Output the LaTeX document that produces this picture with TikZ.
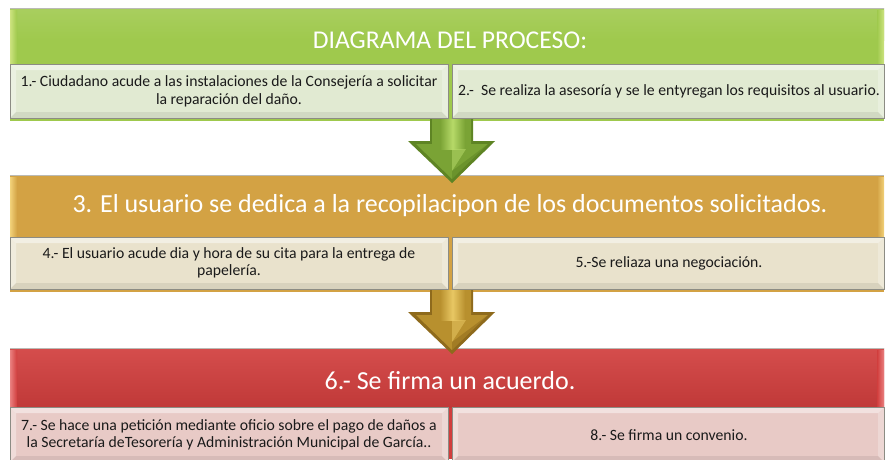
\documentclass[tikz,border=0pt]{standalone}
\usepackage{fontspec}
\setmainfont{Carlito}
\usetikzlibrary{calc}
\definecolor{gHead}{HTML}{9FC94D}
\definecolor{gHeadHi}{HTML}{CDE37F}
\definecolor{gSub}{HTML}{E1EAD2}
\definecolor{oHead}{HTML}{D3A244}
\definecolor{oHeadHi}{HTML}{F2D27A}
\definecolor{oSub}{HTML}{E9E2CC}
\definecolor{rHead}{HTML}{D13E3D}
\definecolor{rHeadHi}{HTML}{E98080}
\definecolor{rSub}{HTML}{E8CAC6}
\definecolor{gArr}{HTML}{7AA335}
\definecolor{gArrHi}{HTML}{B6D968}
\definecolor{gArrDk}{HTML}{5E8424}
\definecolor{oArr}{HTML}{B8902E}
\definecolor{oArrHi}{HTML}{E8C763}
\definecolor{oArrDk}{HTML}{8E6A1C}
\definecolor{subText}{HTML}{1A1A1A}
\definecolor{edge}{HTML}{8C8C84}
\newcommand\bevbox[5]{%
  \fill[#5] (#1,#2) rectangle (#3,#4);
  \fill[white,opacity=.45] (#1,#2) -- (#3,#2) -- ($(#3,#2)+(-6,6)$) -- ($(#1,#2)+(6,6)$) -- cycle;
  \fill[white,opacity=.35] (#1,#2) -- ($(#1,#2)+(6,6)$) -- ($(#1,#4)+(6,-6)$) -- (#1,#4) -- cycle;
  \fill[black,opacity=.07] (#1,#4) -- ($(#1,#4)+(6,-6)$) -- ($(#3,#4)+(-6,-6)$) -- (#3,#4) -- cycle;
  \fill[white,opacity=.25] (#3,#2) -- (#3,#4) -- ($(#3,#4)+(-6,-6)$) -- ($(#3,#2)+(-6,6)$) -- cycle;
  \draw[edge,line width=0.9pt] (#1,#2) rectangle (#3,#4);
}
\newcommand\blockarrow[4]{% top y, base, hi, dark
  \fill[#4] (430,#1) -- (473,#1) -- (473,#1+22) -- (495,#1+22) -- (452,#1+64) -- (408,#1+22) -- (430,#1+22) -- cycle;
  \fill[#2] (432,#1) -- (471,#1) -- (471,#1+25) -- (488,#1+25) -- (452,#1+60) -- (416,#1+25) -- (432,#1+25) -- cycle;
  \shade[left color=#2,right color=#2,middle color=#3] (440,#1) rectangle (465,#1+30);
  \fill[#3,opacity=.55] (452,#1+30) -- (466,#1+30) -- (452,#1+52) -- cycle;
  \fill[#4,opacity=.5] (452,#1+52) -- (488,#1+25) -- (495,#1+22) -- (452,#1+64) -- cycle;
}
\tikzset{
  headtxt/.style={text=white,font=\fontsize{25.6}{30}\selectfont,inner sep=0pt},
  subtxt/.style={text=subText,font=\fontsize{15.7}{18}\selectfont,align=center,inner sep=0pt}
}
\begin{document}
\begin{tikzpicture}[x=1pt,y=-1pt]
\useasboundingbox (0,0) rectangle (886,459);
\fill[white] (0,0) rectangle (886,459);
% ---------- green band
\fill[gHead] (10,8) rectangle (884,121);
\shade[top color=gHead!90!white,bottom color=gHead] (10,8) rectangle (884,40);
\shade[left color=gHeadHi,right color=gHead] (10,10) rectangle (17,64);
\shade[left color=gHead,right color=gHeadHi] (877,10) rectangle (884,64);
\draw[edge!60,line width=0.6pt] (10,8) -- (884,8);
\node[headtxt] (h1) at (450,40) {DIAGRAMA DEL PROCESO:};
\bevbox{10}{64}{448}{118}{gSub}
\bevbox{452}{64}{884}{118}{gSub}
\node[subtxt] (s1) at (229,91) {1.- Ciudadano acude a las instalaciones de la Consejería a solicitar\\la reparación del daño.};
\node[subtxt] (s2) at (669,91) {2.-\ \ Se realiza la asesoría y se le entyregan los requisitos al usuario.};
% ---------- orange band
\fill[oHead] (10,175) rectangle (884,292);
\shade[left color=oHeadHi,right color=oHead] (10,177) rectangle (17,237);
\shade[left color=oHead,right color=oHeadHi] (877,177) rectangle (884,237);
\draw[edge!60,line width=0.6pt] (10,175) -- (884,175);
\node[headtxt,font=\fontsize{26}{30}\selectfont] (h2) at (450,206) {3. El usuario se dedica a la recopilacipon de los documentos solicitados.};
\bevbox{10}{237}{448}{289}{oSub}
\bevbox{452}{237}{884}{289}{oSub}
\node[subtxt,font=\fontsize{15.7}{16.5}\selectfont] (s4) at (229,263) {4.- El usuario acude dia y hora de su cita para la entrega de\\papelería.};
\node[subtxt] (s5) at (669,263) {5.-Se reliaza una negociación.};
% ---------- red band
\fill[rHead] (10,348) rectangle (884,459);
\shade[top color=rHead!92!white,bottom color=rHead!92!black] (10,348) rectangle (884,407);
\shade[left color=rHeadHi,right color=rHead] (10,350) rectangle (17,406);
\shade[left color=rHead,right color=rHeadHi] (877,350) rectangle (884,406);
\draw[edge!60,line width=0.6pt] (10,348) -- (884,348);
\node[headtxt,font=\fontsize{26}{30}\selectfont] (h3) at (450,381) {6.- Se firma un acuerdo.};
\bevbox{10}{407}{448}{462}{rSub}
\bevbox{452}{407}{884}{462}{rSub}
\node[subtxt,font=\fontsize{15.7}{17}\selectfont] (s7) at (229,435) {7.- Se hace una petición mediante oficio sobre el pago de daños a\\la Secretaría deTesorería y Administración Municipal de García..};
\node[subtxt] (s8) at (669,435) {8.- Se firma un convenio.};
% ---------- arrows
\blockarrow{119}{gArr}{gArrHi}{gArrDk}
\blockarrow{290}{oArr}{oArrHi}{oArrDk}
\end{tikzpicture}
\end{document}
